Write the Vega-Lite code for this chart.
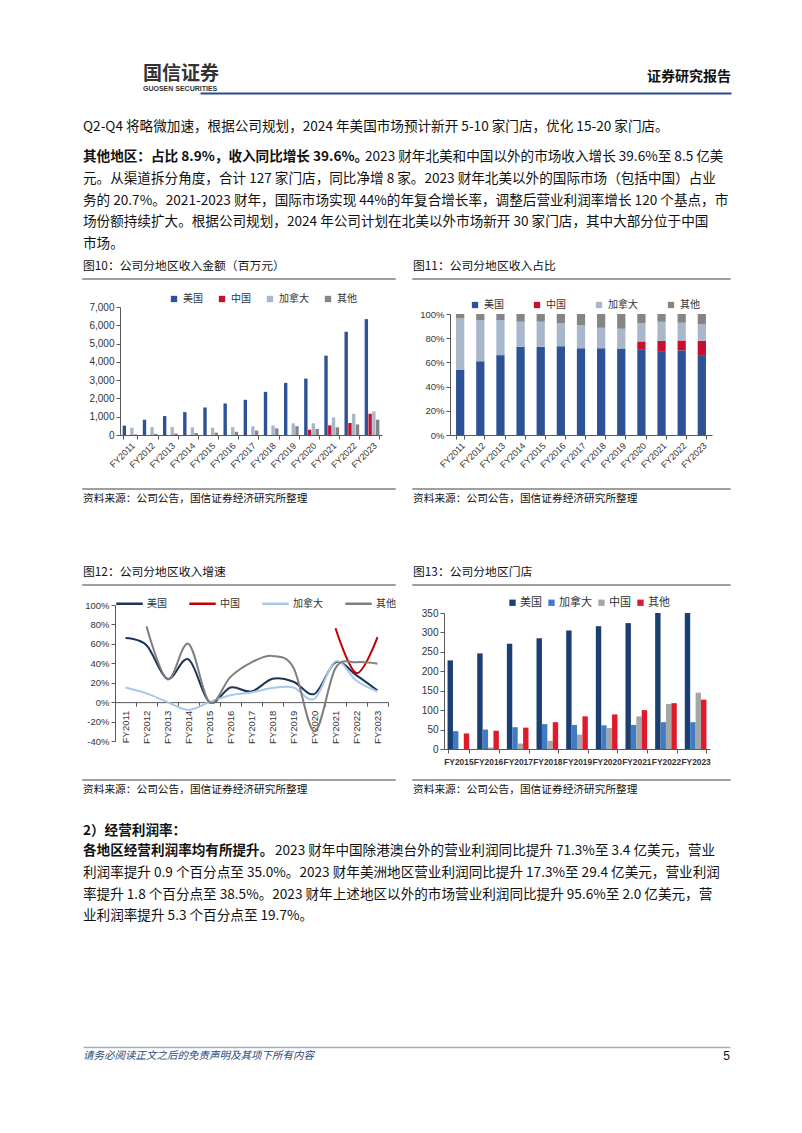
{
  "$schema": "https://vega.github.io/schema/vega-lite/v6.json",
  "padding": {"left": 78, "top": 60, "right": 0, "bottom": 0},
  "background": "white",
  "columns": 3,
  "align": "each",
  "bounds": "flush",
  "spacing": 0,
  "resolve": {"scale": {"color": "independent", "x": "independent", "y": "independent", "xOffset": "independent"}, "legend": {"color": "independent"}},
  "datasets": {
    "rev": [
      {"year":"FY2011","region":"美国","value":510},{"year":"FY2011","region":"加拿大","value":400},{"year":"FY2011","region":"其他","value":35},
      {"year":"FY2012","region":"美国","value":835},{"year":"FY2012","region":"加拿大","value":435},{"year":"FY2012","region":"其他","value":65},
      {"year":"FY2013","region":"美国","value":1035},{"year":"FY2013","region":"加拿大","value":440},{"year":"FY2013","region":"其他","value":80},
      {"year":"FY2014","region":"美国","value":1250},{"year":"FY2014","region":"加拿大","value":420},{"year":"FY2014","region":"其他","value":110},
      {"year":"FY2015","region":"美国","value":1505},{"year":"FY2015","region":"加拿大","value":400},{"year":"FY2015","region":"其他","value":130},
      {"year":"FY2016","region":"美国","value":1725},{"year":"FY2016","region":"加拿大","value":425},{"year":"FY2016","region":"其他","value":175},
      {"year":"FY2017","region":"美国","value":1925},{"year":"FY2017","region":"加拿大","value":475},{"year":"FY2017","region":"其他","value":240},
      {"year":"FY2018","region":"美国","value":2360},{"year":"FY2018","region":"加拿大","value":525},{"year":"FY2018","region":"其他","value":360},
      {"year":"FY2019","region":"美国","value":2850},{"year":"FY2019","region":"加拿大","value":640},{"year":"FY2019","region":"其他","value":480},
      {"year":"FY2020","region":"美国","value":3085},{"year":"FY2020","region":"中国","value":290},{"year":"FY2020","region":"加拿大","value":640},{"year":"FY2020","region":"其他","value":330},
      {"year":"FY2021","region":"美国","value":4340},{"year":"FY2021","region":"中国","value":525},{"year":"FY2021","region":"加拿大","value":960},{"year":"FY2021","region":"其他","value":420},
      {"year":"FY2022","region":"美国","value":5645},{"year":"FY2022","region":"中国","value":655},{"year":"FY2022","region":"加拿大","value":1160},{"year":"FY2022","region":"其他","value":580},
      {"year":"FY2023","region":"美国","value":6335},{"year":"FY2023","region":"中国","value":1160},{"year":"FY2023","region":"加拿大","value":1290},{"year":"FY2023","region":"其他","value":835}
    ],
    "share": [
      {"year":"FY2011","region":"美国","pct":53.7},{"year":"FY2011","region":"加拿大","pct":42.7},{"year":"FY2011","region":"其他","pct":3.6},
      {"year":"FY2012","region":"美国","pct":61},{"year":"FY2012","region":"加拿大","pct":34},{"year":"FY2012","region":"其他","pct":5},
      {"year":"FY2013","region":"美国","pct":66},{"year":"FY2013","region":"加拿大","pct":29},{"year":"FY2013","region":"其他","pct":5},
      {"year":"FY2014","region":"美国","pct":73},{"year":"FY2014","region":"加拿大","pct":20.6},{"year":"FY2014","region":"其他","pct":6.4},
      {"year":"FY2015","region":"美国","pct":73},{"year":"FY2015","region":"加拿大","pct":20.6},{"year":"FY2015","region":"其他","pct":6.4},
      {"year":"FY2016","region":"美国","pct":73.4},{"year":"FY2016","region":"加拿大","pct":19.1},{"year":"FY2016","region":"其他","pct":7.5},
      {"year":"FY2017","region":"美国","pct":71.7},{"year":"FY2017","region":"加拿大","pct":18.9},{"year":"FY2017","region":"其他","pct":9.4},
      {"year":"FY2018","region":"美国","pct":71.7},{"year":"FY2018","region":"加拿大","pct":16.9},{"year":"FY2018","region":"其他","pct":11.4},
      {"year":"FY2019","region":"美国","pct":71.5},{"year":"FY2019","region":"加拿大","pct":16.3},{"year":"FY2019","region":"其他","pct":12.2},
      {"year":"FY2020","region":"美国","pct":70.4},{"year":"FY2020","region":"中国","pct":6.9},{"year":"FY2020","region":"加拿大","pct":15.2},{"year":"FY2020","region":"其他","pct":7.5},
      {"year":"FY2021","region":"美国","pct":69.3},{"year":"FY2021","region":"中国","pct":8.5},{"year":"FY2021","region":"加拿大","pct":15.8},{"year":"FY2021","region":"其他","pct":6.4},
      {"year":"FY2022","region":"美国","pct":70},{"year":"FY2022","region":"中国","pct":8.1},{"year":"FY2022","region":"加拿大","pct":14.7},{"year":"FY2022","region":"其他","pct":7.2},
      {"year":"FY2023","region":"美国","pct":65.4},{"year":"FY2023","region":"中国","pct":12.4},{"year":"FY2023","region":"加拿大","pct":13.6},{"year":"FY2023","region":"其他","pct":8.6}
    ],
    "growth": [
      {"year":"FY2011","region":"美国","g":66},{"year":"FY2012","region":"美国","g":58.6},{"year":"FY2013","region":"美国","g":24},{"year":"FY2014","region":"美国","g":44},{"year":"FY2015","region":"美国","g":0},{"year":"FY2016","region":"美国","g":15},{"year":"FY2017","region":"美国","g":11},{"year":"FY2018","region":"美国","g":24},{"year":"FY2019","region":"美国","g":21},{"year":"FY2020","region":"美国","g":8.6},{"year":"FY2021","region":"美国","g":41},{"year":"FY2022","region":"美国","g":27.6},{"year":"FY2023","region":"美国","g":12},
      {"year":"FY2021","region":"中国","g":76},{"year":"FY2022","region":"中国","g":30},{"year":"FY2023","region":"中国","g":67},
      {"year":"FY2011","region":"加拿大","g":15},{"year":"FY2012","region":"加拿大","g":9},{"year":"FY2013","region":"加拿大","g":0},{"year":"FY2014","region":"加拿大","g":-8},{"year":"FY2015","region":"加拿大","g":0},{"year":"FY2016","region":"加拿大","g":7},{"year":"FY2017","region":"加拿大","g":10},{"year":"FY2018","region":"加拿大","g":14.5},{"year":"FY2019","region":"加拿大","g":15},{"year":"FY2020","region":"加拿大","g":3.5},{"year":"FY2021","region":"加拿大","g":42},{"year":"FY2022","region":"加拿大","g":22},{"year":"FY2023","region":"加拿大","g":11},
      {"year":"FY2012","region":"其他","g":78},{"year":"FY2013","region":"其他","g":23.5},{"year":"FY2014","region":"其他","g":60},{"year":"FY2015","region":"其他","g":0},{"year":"FY2016","region":"其他","g":26},{"year":"FY2017","region":"其他","g":41},{"year":"FY2018","region":"其他","g":47.6},{"year":"FY2019","region":"其他","g":35.5},{"year":"FY2020","region":"其他","g":-30},{"year":"FY2021","region":"其他","g":35},{"year":"FY2022","region":"其他","g":41},{"year":"FY2023","region":"其他","g":39.6}
    ],
    "stores": [
      {"year":"FY2015","region":"美国","n":228},{"year":"FY2015","region":"加拿大","n":46},{"year":"FY2015","region":"其他","n":40},
      {"year":"FY2016","region":"美国","n":246},{"year":"FY2016","region":"加拿大","n":50},{"year":"FY2016","region":"中国","n":4},{"year":"FY2016","region":"其他","n":47},
      {"year":"FY2017","region":"美国","n":271},{"year":"FY2017","region":"加拿大","n":56},{"year":"FY2017","region":"中国","n":14},{"year":"FY2017","region":"其他","n":55},
      {"year":"FY2018","region":"美国","n":285},{"year":"FY2018","region":"加拿大","n":64},{"year":"FY2018","region":"中国","n":21},{"year":"FY2018","region":"其他","n":69},
      {"year":"FY2019","region":"美国","n":305},{"year":"FY2019","region":"加拿大","n":62},{"year":"FY2019","region":"中国","n":37},{"year":"FY2019","region":"其他","n":84},
      {"year":"FY2020","region":"美国","n":316},{"year":"FY2020","region":"加拿大","n":61},{"year":"FY2020","region":"中国","n":54},{"year":"FY2020","region":"其他","n":89},
      {"year":"FY2021","region":"美国","n":324},{"year":"FY2021","region":"加拿大","n":62},{"year":"FY2021","region":"中国","n":84},{"year":"FY2021","region":"其他","n":100},
      {"year":"FY2022","region":"美国","n":350},{"year":"FY2022","region":"加拿大","n":69},{"year":"FY2022","region":"中国","n":116},{"year":"FY2022","region":"其他","n":118},
      {"year":"FY2023","region":"美国","n":350},{"year":"FY2023","region":"加拿大","n":69},{"year":"FY2023","region":"中国","n":145},{"year":"FY2023","region":"其他","n":127}
    ]
  },
  "concat": [
    {"width":0.01,"height":0.01,"data":{"values":[]},"mark":"point","title":{"text":"国信证券","subtitle":"GUOSEN SECURITIES","dx":60,"font":"Noto Sans CJK SC","fontSize":19,"fontWeight":"bold","color":"#333333","offset":5,"subtitleFont":"Liberation Sans","subtitleFontSize":7,"subtitleFontWeight":"bold","subtitleColor":"#333333","subtitlePadding":1}},
    {"width":318,"height":0.01,"data":{"values":[]},"mark":"point","title":{"text":"证券研究报告","anchor":"end","font":"Noto Sans CJK SC","fontSize":14,"fontWeight":"bold","offset":10}},
    {"width":0.01,"height":33,"data":{"values":[]},"mark":"point"},

    {"width":0.01,"height":0.01,"data":{"values":[{"v":0}]},"mark":{"type":"point","opacity":0},"encoding":{"x":{"field":"v","type":"quantitative","scale":{"range":[117,648]},"axis":{"orient":"top","labels":false,"ticks":false,"title":null,"domainColor":"#2B4A8B","domainWidth":2}}}},
    {"width":0.01,"height":0.01,"data":{"values":[]},"mark":"point"},
    {"width":0.01,"height":28,"data":{"values":[]},"mark":"point"},

    {"width":0.01,"height":0.01,"data":{"values":[]},"mark":"point","title":{"text":"Q2-Q4 将略微加速，根据公司规划，2024 年美国市场预计新开 5-10 家门店，优化 15-20 家门店。"}},
    {"width":0.01,"height":0.01,"data":{"values":[]},"mark":"point"},
    {"width":0.01,"height":30,"data":{"values":[]},"mark":"point"},

    {"width":0.01,"height":0.01,"data":{"values":[]},"mark":"point","title":{"text":"其他地区：占比 8.9%，收入同比增长 39.6%。","fontWeight":"bold"}},
    {"width":0.01,"height":0.01,"data":{"values":[]},"mark":"point","title":{"text":"2023 财年北美和中国以外的市场收入增长 39.6%至 8.5 亿美","dx":-48}},
    {"width":0.01,"height":21.7,"data":{"values":[]},"mark":"point"},

    {"width":0.01,"height":0.01,"data":{"values":[]},"mark":"point","title":{"text":["元。从渠道拆分角度，合计 127 家门店，同比净增 8 家。2023 财年北美以外的国际市场（包括中国）占业","务的 20.7%。2021-2023 财年，国际市场实现 44%的年复合增长率，调整后营业利润率增长 120 个基点，市","场份额持续扩大。根据公司规划，2024 年公司计划在北美以外市场新开 30 家门店，其中大部分位于中国","市场。"]}},
    {"width":0.01,"height":0.01,"data":{"values":[]},"mark":"point"},
    {"width":0.01,"height":88.8,"data":{"values":[]},"mark":"point"},

    {"width":0.01,"height":0.01,"data":{"values":[]},"mark":"point","title":{"text":"图10：公司分地区收入金额（百万元）","fontSize":11.8}},
    {"width":0.01,"height":0.01,"data":{"values":[]},"mark":"point","title":{"text":"图11：公司分地区收入占比","fontSize":11.8}},
    {"width":0.01,"height":16.5,"data":{"values":[]},"mark":"point"},

    {"width":312,"height":0.01,"data":{"values":[]},"mark":"point","view":{"stroke":"#7F7F7F","strokeWidth":1.5}},
    {"width":317,"height":0.01,"data":{"values":[]},"mark":"point","view":{"stroke":"#7F7F7F","strokeWidth":1.5}},
    {"width":0.01,"height":28,"data":{"values":[]},"mark":"point"},

    {
      "width":330,"height":128,
      "data":{"name":"rev"},
      "mark":{"type":"bar"},
      "encoding":{
        "x":{"field":"year","type":"nominal","title":null,"scale":{"range":[37,299],"paddingInner":0.27,"paddingOuter":0.13},"axis":{"labelAngle":-45,"tickBand":"extent","labelFontSize":9,"labelPadding":2}},
        "xOffset":{"field":"region","type":"nominal","scale":{"domain":["美国","中国","加拿大","其他"],"paddingInner":0.1}},
        "y":{"field":"value","type":"quantitative","title":null,"scale":{"domain":[0,7000],"nice":false},"axis":{"offset":-37,"values":[0,1000,2000,3000,4000,5000,6000,7000],"format":",d","labelFontSize":10}},
        "color":{"field":"region","type":"nominal","scale":{"domain":["美国","中国","加拿大","其他"],"range":["#2E5296","#C8102E","#A8B7CB","#858585"]},"legend":{"title":null,"orient":"none","legendX":86,"legendY":-13,"direction":"horizontal","symbolType":"square","symbolSize":40,"columnPadding":14,"labelOffset":4}}
      }
    },
    {
      "width":299,"height":128,
      "data":{"name":"share"},
      "transform":[{"calculate":"indexof(['美国','中国','加拿大','其他'], datum.region)","as":"stackOrder"}],
      "mark":{"type":"bar"},
      "encoding":{
        "x":{"field":"year","type":"nominal","title":null,"scale":{"range":[37,299],"paddingInner":0.59,"paddingOuter":0.3},"axis":{"labelAngle":-45,"tickBand":"extent","labelFontSize":9,"labelPadding":2}},
        "y":{"field":"pct","type":"quantitative","stack":"normalize","title":null,"scale":{"domain":[0,1],"range":[128,7],"nice":false},"axis":{"offset":-37,"values":[0,0.2,0.4,0.6,0.8,1],"format":".0%","labelFontSize":9.5}},
        "order":{"field":"stackOrder","type":"quantitative","sort":"ascending"},
        "color":{"field":"region","type":"nominal","scale":{"domain":["美国","中国","加拿大","其他"],"range":["#2E5296","#C8102E","#A8B7CB","#858585"]},"legend":{"title":null,"orient":"none","legendX":57,"legendY":-7,"direction":"horizontal","symbolType":"square","symbolSize":40,"columnPadding":28,"labelOffset":4}}
      }
    },
    {"width":0.01,"height":128,"data":{"values":[]},"mark":"point"},

    {"width":0.01,"height":0.01,"data":{"values":[]},"mark":"point"},
    {"width":0.01,"height":0.01,"data":{"values":[]},"mark":"point"},
    {"width":0.01,"height":54,"data":{"values":[]},"mark":"point"},

    {"width":312,"height":0.01,"data":{"values":[]},"mark":"point","view":{"stroke":"#7F7F7F","strokeWidth":1.5}},
    {"width":317,"height":0.01,"data":{"values":[]},"mark":"point","view":{"stroke":"#7F7F7F","strokeWidth":1.5}},
    {"width":0.01,"height":6,"data":{"values":[]},"mark":"point"},

    {"width":0.01,"height":0.01,"data":{"values":[]},"mark":"point","title":{"text":"资料来源：公司公告，国信证券经济研究所整理","fontSize":10.7}},
    {"width":0.01,"height":0.01,"data":{"values":[]},"mark":"point","title":{"text":"资料来源：公司公告，国信证券经济研究所整理","fontSize":10.7}},
    {"width":0.01,"height":72.5,"data":{"values":[]},"mark":"point"},

    {"width":0.01,"height":0.01,"data":{"values":[]},"mark":"point","title":{"text":"图12：公司分地区收入增速","fontSize":11.8}},
    {"width":0.01,"height":0.01,"data":{"values":[]},"mark":"point","title":{"text":"图13：公司分地区门店","fontSize":11.8}},
    {"width":0.01,"height":16.5,"data":{"values":[]},"mark":"point"},

    {"width":312,"height":0.01,"data":{"values":[]},"mark":"point","view":{"stroke":"#7F7F7F","strokeWidth":1.5}},
    {"width":317,"height":0.01,"data":{"values":[]},"mark":"point","view":{"stroke":"#7F7F7F","strokeWidth":1.5}},
    {"width":0.01,"height":20,"data":{"values":[]},"mark":"point"},

    {
      "width":320,"height":136,
      "data":{"name":"growth"},
      "mark":{"type":"line","interpolate":"cardinal","strokeWidth":2},
      "encoding":{
        "x":{"field":"year","type":"nominal","title":null,"bandPosition":0.5,"scale":{"type":"band","range":[32,305],"paddingInner":0,"paddingOuter":0},"axis":{"labelAngle":-90,"offset":-38.86,"tickBand":"extent","labelFontSize":9.5,"labelPadding":4}},
        "y":{"field":"g","type":"quantitative","title":null,"scale":{"domain":[-40,100],"nice":false},"axis":{"offset":-32,"values":[-40,-20,0,20,40,60,80,100],"labelExpr":"datum.value + '%'","labelFontSize":9.5}},
        "color":{"field":"region","type":"nominal","scale":{"domain":["美国","中国","加拿大","其他"],"range":["#1C3557","#C00000","#A9C8E8","#7F7F7F"]},"legend":{"title":null,"orient":"none","legendX":32,"legendY":-16,"direction":"horizontal","symbolType":"stroke","symbolSize":700,"symbolStrokeWidth":2.5,"columnPadding":17,"labelOffset":3}}
      }
    },
    {
      "width":299,"height":144,
      "data":{"name":"stores"},
      "mark":{"type":"bar"},
      "encoding":{
        "x":{"field":"year","type":"nominal","title":null,"scale":{"range":[31,297],"paddingInner":0.27,"paddingOuter":0.12},"axis":{"labelAngle":0,"tickBand":"extent","labelFont":"Liberation Sans","labelFontSize":8.4,"labelFontWeight":"bold","labelOverlap":false,"labelPadding":4}},
        "xOffset":{"field":"region","type":"nominal","scale":{"domain":["美国","加拿大","中国","其他"]}},
        "y":{"field":"n","type":"quantitative","title":null,"scale":{"domain":[0,350],"range":[144,8],"nice":false},"axis":{"offset":-31,"values":[0,50,100,150,200,250,300,350],"labelFontSize":10}},
        "color":{"field":"region","type":"nominal","scale":{"domain":["美国","加拿大","中国","其他"],"range":["#1B3F73","#3F7CC3","#A6A6A6","#E01A2B"]},"legend":{"title":null,"orient":"none","legendX":94,"legendY":-8,"direction":"horizontal","symbolType":"square","symbolSize":40,"columnPadding":4,"labelOffset":2,"labelFontSize":11}}
      }
    },
    {"width":0.01,"height":144,"data":{"values":[]},"mark":"point"},

    {"width":0.01,"height":0.01,"data":{"values":[]},"mark":"point"},
    {"width":0.01,"height":0.01,"data":{"values":[]},"mark":"point"},
    {"width":0.01,"height":31,"data":{"values":[]},"mark":"point"},

    {"width":312,"height":0.01,"data":{"values":[]},"mark":"point","view":{"stroke":"#7F7F7F","strokeWidth":1.5}},
    {"width":317,"height":0.01,"data":{"values":[]},"mark":"point","view":{"stroke":"#7F7F7F","strokeWidth":1.5}},
    {"width":0.01,"height":6,"data":{"values":[]},"mark":"point"},

    {"width":0.01,"height":0.01,"data":{"values":[]},"mark":"point","title":{"text":"资料来源：公司公告，国信证券经济研究所整理","fontSize":10.7}},
    {"width":0.01,"height":0.01,"data":{"values":[]},"mark":"point","title":{"text":"资料来源：公司公告，国信证券经济研究所整理","fontSize":10.7}},
    {"width":0.01,"height":39,"data":{"values":[]},"mark":"point"},

    {"width":0.01,"height":0.01,"data":{"values":[]},"mark":"point","title":{"text":"2）经营利润率：","fontWeight":"bold"}},
    {"width":0.01,"height":0.01,"data":{"values":[]},"mark":"point"},
    {"width":0.01,"height":19.5,"data":{"values":[]},"mark":"point"},

    {"width":0.01,"height":0.01,"data":{"values":[]},"mark":"point","title":{"text":"各地区经营利润率均有所提升。","fontWeight":"bold"}},
    {"width":0.01,"height":0.01,"data":{"values":[]},"mark":"point","title":{"text":"2023 财年中国除港澳台外的营业利润同比提升 71.3%至 3.4 亿美元，营业","dx":-138}},
    {"width":0.01,"height":21.7,"data":{"values":[]},"mark":"point"},

    {"width":0.01,"height":0.01,"data":{"values":[]},"mark":"point","title":{"text":["利润率提升 0.9 个百分点至 35.0%。2023 财年美洲地区营业利润同比提升 17.3%至 29.4 亿美元，营业利润","率提升 1.8 个百分点至 38.5%。2023 财年上述地区以外的市场营业利润同比提升 95.6%至 2.0 亿美元，营","业利润率提升 5.3 个百分点至 19.7%。"]}},
    {"width":0.01,"height":0.01,"data":{"values":[]},"mark":"point"},
    {"width":0.01,"height":179.5,"data":{"values":[]},"mark":"point"},

    {"width":0.01,"height":0.01,"data":{"values":[{"v":0}]},"mark":{"type":"point","opacity":0},"encoding":{"x":{"field":"v","type":"quantitative","scale":{"range":[0,647]},"axis":{"orient":"top","labels":false,"ticks":false,"title":null,"domainColor":"#A3AFC0","domainWidth":1.5}}}},
    {"width":0.01,"height":0.01,"data":{"values":[]},"mark":"point"},
    {"width":0.01,"height":5,"data":{"values":[]},"mark":"point"},

    {"width":0.01,"height":0.01,"data":{"values":[]},"mark":"point","title":{"text":"请务必阅读正文之后的免责声明及其项下所有内容","fontSize":10.5,"fontStyle":"italic","color":"#2F4B7C"}},
    {"width":317,"height":0.01,"data":{"values":[]},"mark":"point","title":{"text":"5","anchor":"end","fontSize":12,"font":"Liberation Sans"}},
    {"width":0.01,"height":20,"data":{"values":[]},"mark":"point"}
  ],
  "config": {
    "view": {"stroke": null},
    "font": "Noto Sans CJK SC",
    "title": {"orient": "bottom", "anchor": "start", "offset": -1, "frame": "group", "baseline": "top", "font": "Liberation Sans Narrow, Noto Sans CJK SC", "fontSize": 13.6, "fontWeight": "normal", "color": "#111111", "lineHeight": 21.7},
    "axis": {"grid": false, "labelFont": "Liberation Sans", "labelFontSize": 9.5, "labelColor": "#333333", "domainColor": "#595959", "tickColor": "#595959", "domainWidth": 1, "tickSize": 4, "labelPadding": 2},
    "legend": {"labelFont": "Noto Sans CJK SC", "labelFontSize": 10, "labelColor": "#333333"}
  }
}
